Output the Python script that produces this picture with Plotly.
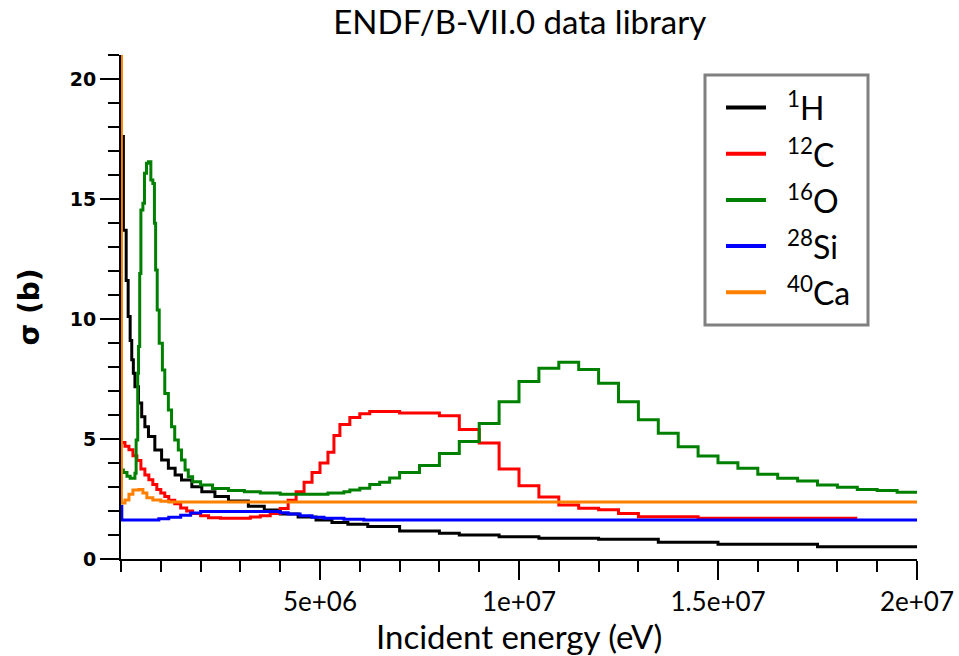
import plotly.graph_objects as go

# Energies in MeV (step starts), cross sections in barns
h1_E = [0, 0.06, 0.13, 0.18, 0.23, 0.27, 0.31, 0.35, 0.44, 0.52, 0.6, 0.69, 0.85, 1.02, 1.19, 1.36,
        1.52, 1.78, 2.03, 2.36, 2.7, 3.2, 3.6, 4.0, 4.45, 4.9, 5.3, 5.7, 6.2, 7.0, 8.0, 8.5, 9.5,
        10.5, 12.0, 13.5, 15.0, 17.5, 20.0]
h1_S = [17.6, 13.7, 11.6, 10.1, 9.1, 8.3, 7.74, 7.18, 6.5, 5.93, 5.51, 5.1, 4.54, 4.12, 3.78, 3.5,
        3.29, 3.01, 2.8, 2.6, 2.42, 2.2, 2.04, 1.88, 1.75, 1.62, 1.52, 1.45, 1.35, 1.17, 1.07, 1.0, 0.93,
        0.86, 0.82, 0.7, 0.61, 0.51, 0.51]

c12_E = [0, 0.1, 0.2, 0.3, 0.4, 0.5, 0.6, 0.7, 0.8, 0.9, 1.0, 1.1, 1.2, 1.35, 1.5, 1.65, 1.8, 2.0,
         2.2, 2.5, 3.0, 3.25, 3.5, 3.75, 4.0, 4.2, 4.4, 4.6, 4.8, 5.0, 5.2, 5.35, 5.5, 5.75, 6.0, 6.25,
         7.0, 8.0, 8.5, 9.0, 9.5, 10.0, 10.5, 11.0, 11.5, 12.0, 12.5, 13.0, 14.5, 18.5]
c12_S = [4.85, 4.7, 4.55, 4.3, 4.1, 3.75, 3.5, 3.3, 3.1, 2.9, 2.75, 2.6, 2.45, 2.3, 2.12, 2.0, 1.9, 1.8,
         1.72, 1.7, 1.7, 1.75, 1.8, 1.9, 2.1, 2.45, 2.8, 3.2, 3.6, 4.0, 4.45, 5.15, 5.6, 5.9, 6.05, 6.15,
         6.08, 5.97, 5.4, 4.83, 3.75, 3.05, 2.58, 2.25, 2.11, 2.05, 1.9, 1.76, 1.7, 1.7]

o16_E = [0, 0.06, 0.15, 0.23, 0.35, 0.38, 0.42, 0.44, 0.47, 0.50, 0.55, 0.59, 0.64, 0.69, 0.75, 0.80,
         0.84, 0.87, 0.91, 0.96, 1.04, 1.10, 1.19, 1.27, 1.35, 1.44, 1.52, 1.61, 1.69, 1.80, 2.0, 2.3,
         2.7, 3.1, 3.5, 4.0, 5.2, 5.6, 5.75, 6.0, 6.25, 6.5, 6.75, 7.0, 7.5, 8.0, 8.5, 9.0, 9.5, 10.0,
         10.5, 11.0, 11.5, 12.0, 12.5, 13.0, 13.5, 14.0, 14.5, 15.0, 15.5, 16.0, 16.5, 17.0, 17.5, 18.0,
         18.5, 19.0, 19.5, 20.0]
o16_S = [3.71, 3.6, 3.45, 3.36, 3.57, 4.96, 7.74, 8.85, 11.9, 14.54, 14.82, 16.07, 16.49, 16.55, 15.79,
         15.65, 13.99, 12.04, 10.38, 8.99, 7.88, 6.9, 6.21, 5.51, 4.96, 4.54, 4.12, 3.71, 3.43, 3.22,
         3.08, 2.94, 2.85, 2.8, 2.75, 2.7, 2.75, 2.8, 2.87, 2.95, 3.1, 3.2, 3.37, 3.6, 3.9, 4.4, 4.9,
         5.65, 6.55, 7.4, 7.95, 8.2, 7.9, 7.32, 6.55, 5.8, 5.24, 4.68, 4.29, 4.01, 3.78, 3.53, 3.36,
         3.25, 3.08, 2.99, 2.9, 2.85, 2.78, 2.78]

si28_E = [0, 0.02, 0.95, 1.2, 1.5, 1.75, 2.0, 4.0, 4.2, 4.5, 4.8, 5.1, 5.6, 6.1, 20.0]
si28_S = [2.2, 1.62, 1.68, 1.74, 1.82, 1.92, 1.98, 1.93, 1.87, 1.8, 1.74, 1.7, 1.66, 1.62, 1.62]

ca40_E = [0, 0.01, 0.1, 0.2, 0.3, 0.45, 0.55, 0.65, 0.8, 1.0, 1.2, 20.0]
ca40_S = [30.0, 2.33, 2.46, 2.7, 2.88, 2.9, 2.75, 2.55, 2.46, 2.41, 2.37, 2.37]

names = ["<sup>1</sup>H", "<sup>12</sup>C", "<sup>16</sup>O", "<sup>28</sup>Si", "<sup>40</sup>Ca"]
colors = ["#000000", "#ff0000", "#008000", "#0000ff", "#ff8000"]
energies = [h1_E, c12_E, o16_E, si28_E, ca40_E]
sigmas = [h1_S, c12_S, o16_S, si28_S, ca40_S]

x_tickvals = [5e6, 1e7, 1.5e7, 2e7]
x_ticktext = ["5e+06", "1e+07", "1.5e+07", "2e+07"]
y_tickvals = [0, 5, 10, 15, 20]

MEV = 1e6
W, H = 959, 656
ML, MR, MT, MB = 121, 42, 55, 97
PW, PH = W - ML - MR, H - MT - MB


def px_x(px):
    return (px - ML) / PW


def px_y(py):
    return (H - MB - py) / PH


fig = go.Figure()
for name, E, S, col in zip(names, energies, sigmas, colors):
    fig.add_trace(go.Scatter(
        x=[e * MEV for e in E], y=S, mode="lines", name=name, showlegend=False,
        line=dict(color=col, width=3, shape="hv")))

label_font = "Lato, 'Open Sans', sans-serif"

# Hand-drawn legend box (to match the reference geometry)
shapes = [dict(type="rect", xref="paper", yref="paper",
               x0=px_x(705), x1=px_x(868), y0=px_y(325), y1=px_y(75),
               line=dict(color="#808080", width=3), fillcolor="white", layer="above")]
annotations = []
row_y0, row_dy = 107.5, 46.2
for i, (name, col) in enumerate(zip(names, colors)):
    ry = row_y0 + i * row_dy
    shapes.append(dict(type="line", xref="paper", yref="paper",
                       x0=px_x(726), x1=px_x(766), y0=px_y(ry), y1=px_y(ry),
                       line=dict(color=col, width=4), layer="above"))
    annotations.append(dict(text=name, xref="paper", yref="paper", x=px_x(785), y=px_y(ry - 1),
                            xanchor="left", yanchor="middle", showarrow=False,
                            font=dict(family=label_font, size=32, color="black")))

# x-axis title drawn as an annotation just under the tick labels
annotations.append(dict(text="Incident energy (eV)", xref="paper", yref="paper",
                        x=0.5, y=px_y(636), xanchor="center", yanchor="middle", showarrow=False,
                        font=dict(family=label_font, size=33, color="black")))

fig.update_layout(
    width=W, height=H,
    margin=dict(l=ML, r=MR, t=MT, b=MB),
    paper_bgcolor="white", plot_bgcolor="white",
    title=dict(text="ENDF/B-VII.0 data library", x=0.542, xanchor="center", y=0.966, yanchor="middle",
               font=dict(family=label_font, size=33, color="black")),
    xaxis=dict(range=[0, 2e7], showline=True, linecolor="black", linewidth=2, automargin=False,
               ticks="outside", ticklen=19, tickwidth=2, tickcolor="black",
               tickmode="array", tickvals=x_tickvals, ticktext=x_ticktext,
               tickfont=dict(family=label_font, size=26, color="black"),
               minor=dict(tickmode="linear", tick0=0, dtick=1e6, ticks="outside", ticklen=11,
                          tickwidth=2, tickcolor="black", showgrid=False),
               showgrid=False, zeroline=False),
    yaxis=dict(range=[0, 21], showline=True, linecolor="black", linewidth=2, automargin=False,
               ticks="outside", ticklen=19, tickwidth=2, tickcolor="black",
               tickmode="array", tickvals=y_tickvals,
               tickfont=dict(family="DejaVu Sans", size=19, color="black", weight="bold"),
               minor=dict(tickmode="linear", tick0=0, dtick=1, ticks="outside", ticklen=11,
                          tickwidth=2, tickcolor="black", showgrid=False),
               showgrid=False, zeroline=False,
               title=dict(text="σ (b)", standoff=22,
                          font=dict(family="DejaVu Sans", size=28, color="black", weight="bold"))),
    shapes=shapes,
    annotations=annotations,
    showlegend=False,
)

fig.write_html("out.html")
